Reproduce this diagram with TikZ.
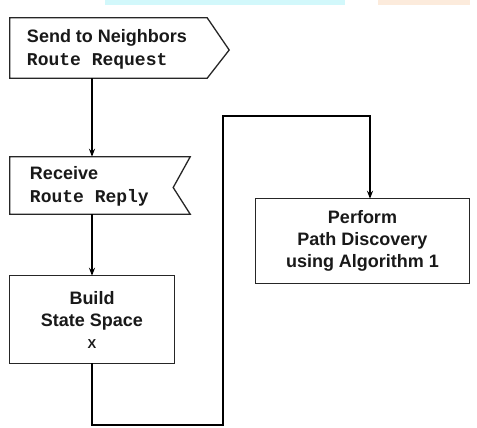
\documentclass[tikz,border=0pt]{standalone}
\usepackage{fontspec}
\setmainfont{Liberation Sans}
\setmonofont{Liberation Mono}
\usetikzlibrary{arrows.meta,calc}
\tikzset{
  box/.style={draw=none, rectangle, inner sep=0pt},
  outline/.style={draw=black!85, line width=1.3pt, fill=white},
  lbl/.style={font=\bfseries\fontsize{18}{22}\selectfont, text=black!90, align=center, inner sep=0pt},
  lbll/.style={lbl, align=left, anchor=west},
  wire/.style={draw=black, line width=1.5pt},
  arr/.style={wire, -{Stealth[length=8pt,width=6pt]}}
}
\begin{document}
\begin{tikzpicture}[x=1pt,y=-1pt]
\useasboundingbox (0,0) rectangle (477,428);
% page strips at top edge
\fill[fill={rgb,255:red,210;green,248;blue,251}] (105,0) rectangle (345,5);
\fill[fill={rgb,255:red,252;green,235;blue,220}] (378,0) rectangle (470,5);
% node frames (anchors)
\node[box, minimum width=197pt, minimum height=60pt] (send) at (108.5,48) {};
\node[box, minimum width=180pt, minimum height=57pt] (recv) at (100,185.5) {};
\node[box, minimum width=164pt, minimum height=87pt] (build) at (92,319.5) {};
\node[box, minimum width=213pt, minimum height=84pt] (perf) at (362.5,241) {};
% outlines
\path[outline] (send.north west) -- (send.north east) -- ($(send.east)+(22,2)$) -- (send.south east) -- (send.south west) -- cycle;
\path[outline] (recv.north west) -- (recv.north east) -- ($(recv.east)+(-17,2)$) -- (recv.south east) -- (recv.south west) -- cycle;
\path[outline] (build.north west) rectangle (build.south east);
\path[outline] (perf.north west) rectangle (perf.south east);
% texts
\node[lbll] (sendt) at ($(send.west)+(17,1)$) {Send to Neighbors\\[1pt]\texttt{Route Request}};
\node[lbll] (recvt) at ($(recv.west)+(20,1)$) {Receive\\[1pt]\texttt{Route Reply}};
\node[lbl] (buildt) at (build.center) {Build\\State Space\\{\fontsize{13}{16}\selectfont X}};
\node[lbl] (perft) at (perf.center) {Perform\\Path Discovery\\using Algorithm 1};
% connectors
\coordinate (c1) at (223,425);
\coordinate (c2) at (223,116);
\coordinate (pin) at ($(perf.north)+(7.5,0)$);
\draw[arr] (send.south -| build.north) -- (recv.north -| build.north);
\draw[arr] (recv.south -| build.north) -- (build.north);
\draw[arr] (build.south) |- (c1) -- (c2) -| (pin);
\end{tikzpicture}
\end{document}
